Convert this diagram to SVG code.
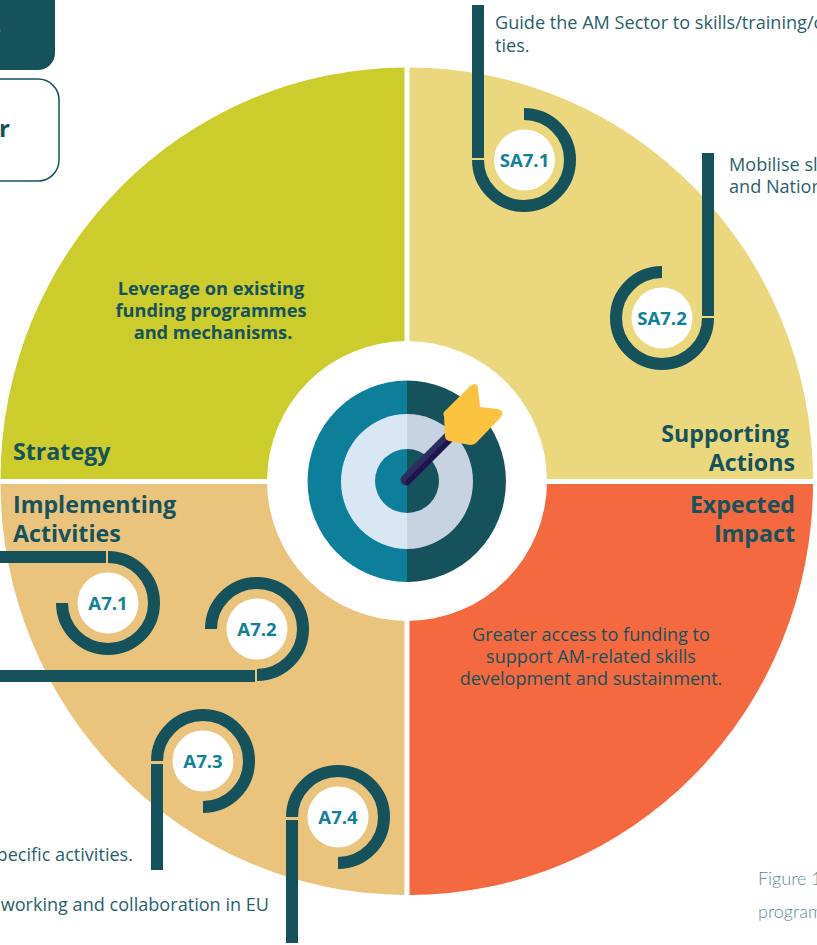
<svg xmlns="http://www.w3.org/2000/svg" width="817" height="945" viewBox="0 0 817 945">
<defs>
<style>
text{font-family:"Open Sans","Liberation Sans",sans-serif}
.ring{fill:none;stroke:#15525c;stroke-width:12}
.stem{fill:#15525c}
.dot{fill:#fff}
.lab{font-size:18.6px;font-weight:700;fill:#118199;text-anchor:middle}
.body{font-size:18.1px;fill:#2a5f6b}
.head{font-size:23.2px;font-weight:700;fill:#15525c}
.mid{font-size:18.2px;font-weight:700;fill:#15525c;text-anchor:middle}
.cap{font-family:Lato,"Liberation Sans",sans-serif;font-size:18px;font-weight:300;fill:#5b8d9a}
</style>
</defs>
<rect width="817" height="945" fill="#fff"/>
<g id="legend">
<path d="M0 0H55V53A17 17 0 0 1 38 70H0Z" fill="#15525c"/>
<text x="1" y="37" text-anchor="end" style="font-size:30px;font-weight:700;fill:#fff">S</text>
<path d="M0 79H38A21 21 0 0 1 59 100V160A21 21 0 0 1 38 181H0" fill="#fff" stroke="#15525c" stroke-width="1.5"/>
<text x="10" y="137" text-anchor="end" style="font-size:24px;font-weight:700;fill:#15525c">r</text>
</g>
<g id="quadrant-strategy">
<path d="M404.500 479 H0.500 A406.500 412 0 0 1 404.500 67.500Z" fill="#cccc2c"/>
<text class="head" x="13" y="460">Strategy</text>
<text class="mid"><tspan x="211" y="295">Leverage on existing</tspan><tspan x="211" y="317">funding programmes</tspan><tspan x="213" y="339">and mechanisms.</tspan></text>
</g>
<g id="quadrant-supporting">
<path d="M409.500 479 H813 A403.500 412 0 0 0 409.500 67.500Z" fill="#ead77e"/>
<text class="head" text-anchor="end"><tspan x="789" y="442">Supporting</tspan><tspan x="795" y="471">Actions</tspan></text>
</g>
<g id="quadrant-implementing">
<path d="M404.500 484 H0.500 A406.500 412 0 0 0 404.500 895Z" fill="#eac47d"/>
<text class="head"><tspan x="13" y="513">Implementing</tspan><tspan x="13" y="542">Activities</tspan></text>
</g>
<g id="quadrant-impact">
<path d="M409.500 484 H813 A403.500 412 0 0 1 409.500 895Z" fill="#f4693f"/>
<text class="head" text-anchor="end"><tspan x="795" y="513">Expected</tspan><tspan x="795" y="542">Impact</tspan></text>
<text style="font-size:18.1px;fill:#15525c;text-anchor:middle"><tspan x="591" y="641">Greater access to funding to</tspan><tspan x="591" y="663">support AM-related skills</tspan><tspan x="591" y="685">development and sustainment.</tspan></text>
</g>
<g id="target">
<circle cx="407" cy="481" r="140" fill="#fff"/>
<path d="M407 380.500A99.500 100.750 0 0 0 407 582Z" fill="#0e7f9b"/>
<path d="M407 380.500A99 100.750 0 0 1 407 582Z" fill="#15525c"/>
<path d="M407 414A66 67.500 0 0 0 407 549Z" fill="#d9e7f4"/>
<path d="M407 414A66 67.500 0 0 1 407 549Z" fill="#c7d3e0"/>
<path d="M407 449A32 32 0 0 0 407 513Z" fill="#0e7f9b"/>
<path d="M407 449A32 32 0 0 1 407 513Z" fill="#15525c"/>
<path d="M406 480L450 436" stroke="#2c2f5e" stroke-width="11" stroke-linecap="round" fill="none"/>
<path d="M406 481L453 434" stroke="#1f1450" stroke-width="5" stroke-linecap="round" fill="none" transform="translate(1.500 1.500)"/>
<path d="M444 416Q442 413 446 410L470 386Q477 381 478 388L480 407L498 409Q505 411 501 417L476 443Q474 445 470 445L449 441Q445 440 445 436Z" fill="#fbc33f"/>
</g>
<g id="connectors">
<path class="ring" d="M524 114A46 46 0 1 1 478 160"/>
<rect class="stem" x="472" y="5" width="12" height="153"/>
<path class="ring" d="M708 318A46 46 0 1 1 662 272"/>
<rect class="stem" x="702" y="153" width="12" height="163"/>
<path class="ring" d="M108 557A46 46 0 1 1 62 603"/>
<rect class="stem" x="0" y="551" width="106" height="12"/>
<path class="ring" d="M257 675A46 46 0 1 0 211 629"/>
<rect class="stem" x="0" y="670" width="255" height="12"/>
<path class="ring" d="M157 761A46 46 0 1 1 203 807"/>
<rect class="stem" x="151" y="764" width="12" height="106"/>
<path class="ring" d="M292 817A46 46 0 1 1 338 863"/>
<rect class="stem" x="286" y="820" width="12" height="123"/>
</g>
<g id="SA7.1"><circle class="dot" cx="524.500" cy="160" r="30.500"/><text class="lab" x="524.500" y="167">SA7.1</text></g>
<g id="SA7.2"><circle class="dot" cx="662" cy="318" r="30.500"/><text class="lab" x="662" y="325">SA7.2</text></g>
<g id="A7.1"><circle class="dot" cx="108" cy="603" r="30.500"/><text class="lab" x="108" y="610">A7.1</text></g>
<g id="A7.2"><circle class="dot" cx="257" cy="629" r="30.500"/><text class="lab" x="257" y="636">A7.2</text></g>
<g id="A7.3"><circle class="dot" cx="203" cy="761" r="30.500"/><text class="lab" x="203" y="768">A7.3</text></g>
<g id="A7.4"><circle class="dot" cx="338" cy="817" r="30.500"/><text class="lab" x="338" y="824">A7.4</text></g>
<g id="labels">
<text class="body"><tspan x="495" y="29">Guide the AM Sector to skills/training/c</tspan><tspan x="495" y="52">ties.</tspan></text>
<text class="body"><tspan x="729" y="171">Mobilise sl</tspan><tspan x="729" y="193">and Nation</tspan></text>
<text class="body" x="133" y="861" text-anchor="end">pecific activities.</text>
<text class="body" x="269" y="911" text-anchor="end">working and collaboration in EU</text>
<text class="cap"><tspan x="758" y="885">Figure 1</tspan><tspan x="758" y="918">program</tspan></text>
</g>
</svg>
